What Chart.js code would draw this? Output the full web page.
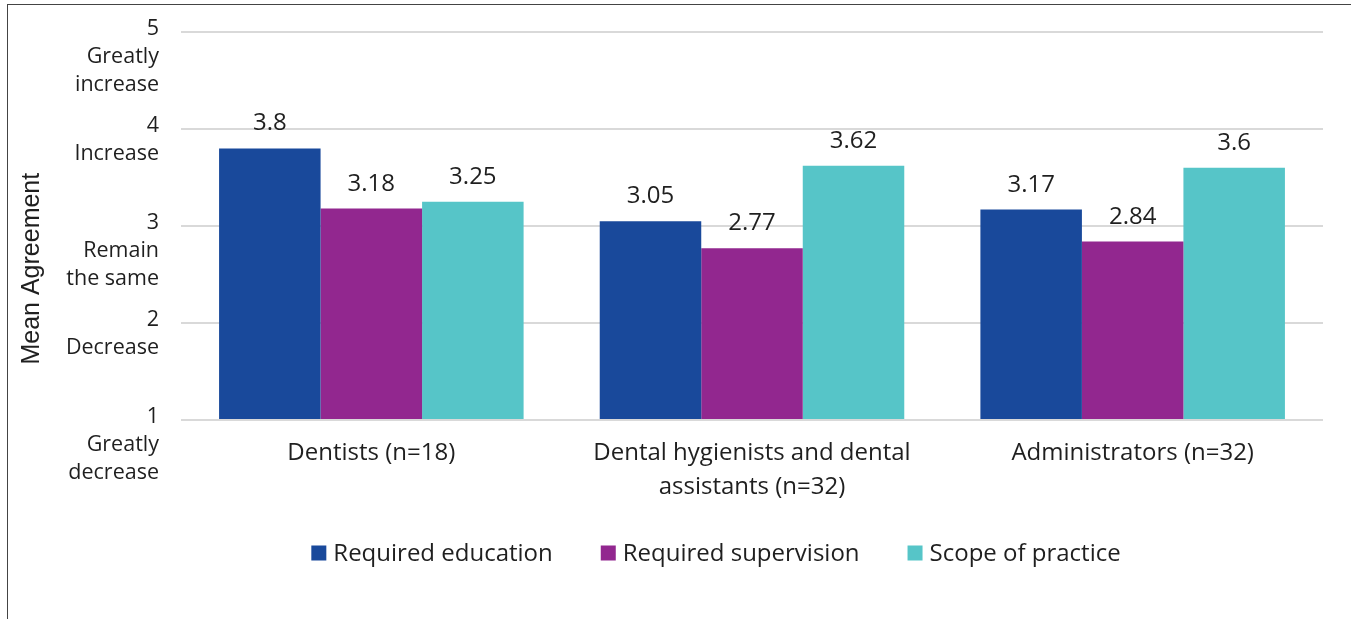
<!DOCTYPE html>
<html>
<head>
<meta charset="utf-8">
<script src="https://cdn.jsdelivr.net/npm/chart.js@4/dist/chart.umd.min.js"></script>
<style>
  html, body { margin: 0; padding: 0; background: #fff; }
  #frame {
    position: absolute; left: 7px; top: 4px;
    width: 1344px; height: 615px;
    border-left: 1px solid #444; border-top: 1px solid #444;
  }
  #wrap { position: absolute; left: 0; top: 0; width: 1344px; height: 615px; }
</style>
</head>
<body>
<div id="frame"><div id="wrap"><canvas id="myChart"></canvas></div></div>
<script>
const categories = ['Dentists (n=18)', ['Dental hygienists and dental', 'assistants (n=32)'], 'Administrators (n=32)'];
const seriesNames = ['Required education', 'Required supervision', 'Scope of practice'];
const education = [3.8, 3.05, 3.17];
const supervision = [3.18, 2.77, 2.84];
const scope = [3.25, 3.62, 3.6];
const tickValues = [1, 2, 3, 4, 5];
const tickLabels = [
    ['1', 'Greatly', 'decrease'],
    ['2', 'Decrease', ''],
    ['3', 'Remain', 'the same'],
    ['4', 'Increase', ''],
    ['5', 'Greatly', 'increase']
];
const colors = ['#19499b', '#92278f', '#56c5c8'];

const font = "'Open Sans', sans-serif";
const textColor = '#1f1f1f';

// value labels above each bar
const valueLabels = {
    id: 'valueLabels',
    afterDatasetsDraw(chart) {
        const c = chart.ctx;
        c.save();
        c.font = '24px ' + font;
        c.fillStyle = textColor;
        c.textAlign = 'center';
        c.textBaseline = 'alphabetic';
        chart.data.datasets.forEach((ds, i) => {
            chart.getDatasetMeta(i).data.forEach((bar, j) => {
                c.fillText(String(ds.data[j]), bar.x, bar.y - 18);
            });
        });
        c.restore();
    }
};

// y axis title, sitting a bit below the axis centre like the original
const axisTitle = {
    id: 'axisTitle',
    afterDraw(chart) {
        const c = chart.ctx;
        c.save();
        c.font = '25px "Liberation Sans", Arial, sans-serif';
        c.fillStyle = textColor;
        c.textAlign = 'center';
        c.textBaseline = 'middle';
        c.translate(24, chart.chartArea.top + (chart.chartArea.bottom - chart.chartArea.top) * 0.61);
        c.rotate(-Math.PI / 2);
        c.fillText('Mean Agreement', 0, 0);
        c.restore();
    }
};

// legend row drawn by hand so box/text gaps match
const legendRow = {
    id: 'legendRow',
    afterDraw(chart) {
        const c = chart.ctx;
        const box = 15, gap = 7, spacing = 48;
        c.save();
        c.font = '24px ' + font;
        c.textBaseline = 'middle';
        c.textAlign = 'left';
        const items = chart.data.datasets.map(ds => ({
            text: ds.label, color: ds.backgroundColor, w: c.measureText(ds.label).width
        }));
        const total = items.reduce((s, it) => s + box + gap + it.w, 0) + spacing * (items.length - 1);
        let x = 708 - total / 2;
        const y = 548;
        items.forEach(it => {
            c.fillStyle = it.color;
            c.fillRect(x, y - box / 2, box, box);
            c.fillStyle = textColor;
            c.fillText(it.text, x + box + gap, y + 1);
            x += box + gap + it.w + spacing;
        });
        c.restore();
    }
};

const ctx = document.getElementById('myChart').getContext('2d');
const myChart = new Chart(ctx, {
    type: 'bar',
    data: {
        labels: categories,
        datasets: [education, supervision, scope].map((d, i) => ({
            label: seriesNames[i],
            data: d,
            backgroundColor: colors[i],
            borderWidth: 0,
            categoryPercentage: 0.8,
            barPercentage: 1.0,
            base: 1
        }))
    },
    options: {
        responsive: true,
        maintainAspectRatio: false,
        animation: false,
        layout: { padding: { top: 27, right: 29, bottom: 87, left: 0 } },
        plugins: {
            tooltip: { enabled: false },
            legend: { display: false }
        },
        scales: {
            x: {
                grid: { display: false, drawTicks: false },
                border: { display: false },
                ticks: {
                    font: { family: font, size: 24, lineHeight: 1.42 },
                    color: textColor,
                    padding: 16,
                    maxRotation: 0,
                    autoSkip: false
                },
                afterFit(scale) {
                    scale.height = 113;
                    scale.paddingLeft = 0;
                    scale.paddingRight = 0;
                }
            },
            y: {
                min: 1,
                max: 5,
                afterBuildTicks(scale) {
                    scale.ticks = tickValues.map(v => ({ value: v }));
                },
                afterFit(scale) {
                    scale.width = 173;
                    scale.paddingTop = 0;
                    scale.paddingBottom = 0;
                },
                grid: { color: '#d9d9d9', lineWidth: 2, drawTicks: false },
                border: { display: false },
                ticks: {
                    font: { family: font, size: 21.5, lineHeight: 1.3 },
                    color: textColor,
                    padding: 22,
                    labelOffset: 25,
                    callback: (v) => tickLabels[tickValues.indexOf(v)]
                }
            }
        }
    },
    plugins: [valueLabels, axisTitle, legendRow]
});
</script>
</body>
</html>
